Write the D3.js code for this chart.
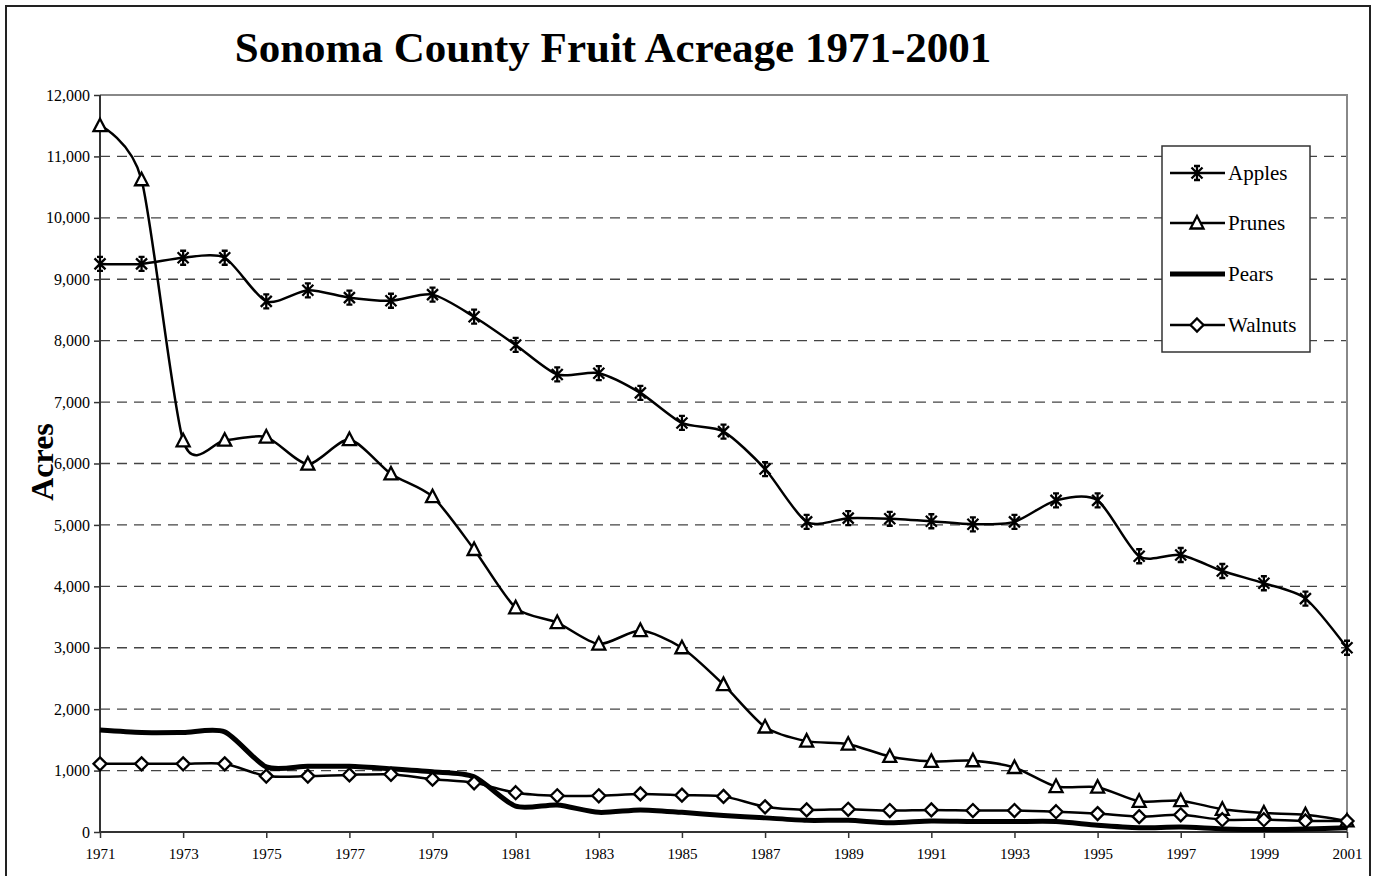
<!DOCTYPE html>
<html>
<head>
<meta charset="utf-8">
<script src="https://cdn.jsdelivr.net/npm/d3@7"></script>
<style>
    body { margin: 0; background: #fff; }
    text { font-family: "Liberation Serif", "Times New Roman", serif; fill: #000; }
</style>
</head>
<body>
<svg width="1376" height="876"></svg>
<script>
let years = d3.range(1971, 2002);
let tickYears = [1971, 1973, 1975, 1977, 1979, 1981, 1983, 1985, 1987, 1989, 1991, 1993, 1995, 1997, 1999, 2001];
let yTicks = [0, 1000, 2000, 3000, 4000, 5000, 6000, 7000, 8000, 9000, 10000, 11000, 12000];

let apples = [9250, 9250, 9350, 9350, 8640, 8820, 8700, 8650, 8750, 8390, 7930, 7450, 7470, 7150, 6660, 6520,
    5910, 5050, 5110, 5100, 5060, 5010, 5050, 5400, 5400, 4490, 4510, 4250, 4050, 3800, 3000];
let prunes = [11500, 10620, 6370, 6380, 6430, 5990, 6390, 5830, 5460, 4600, 3650, 3410, 3060, 3280, 3000, 2400,
    1710, 1480, 1430, 1230, 1150, 1160, 1050, 740, 730, 500, 510, 370, 310, 280, 180];
let pears = [1660, 1620, 1620, 1630, 1060, 1070, 1070, 1030, 980, 900, 420, 440, 320, 360, 320, 270,
    230, 190, 190, 150, 180, 170, 170, 170, 110, 70, 80, 50, 40, 50, 70];
let walnuts = [1110, 1110, 1110, 1110, 910, 910, 930, 940, 860, 800, 640, 590, 590, 620, 600, 580,
    410, 360, 370, 350, 360, 350, 350, 330, 300, 250, 280, 200, 200, 180, 180];

let seriesNames = ['Apples', 'Prunes', 'Pears', 'Walnuts'];
let seriesData = [apples, prunes, pears, walnuts];
let markerTypes = ['star', 'triangle', 'none', 'diamond'];

const margin = {left: 100, top: 95, right: 1347, bottom: 832};

let x = d3.scaleLinear().domain([1971, 2001]).range([margin.left, margin.right]);
let y = d3.scaleLinear().domain([0, 12000]).range([margin.bottom, margin.top]);

let svg = d3.select('svg');

// outer frame
svg.append('rect')
    .attr('x', 6).attr('y', 6)
    .attr('width', 1364).attr('height', 880)
    .style('fill', 'none')
    .style('stroke', '#222')
    .style('stroke-width', 2);

// title
svg.append('text')
    .attr('x', 613).attr('y', 62)
    .attr('text-anchor', 'middle')
    .style('font-size', '43px')
    .style('font-weight', 'bold')
    .text('Sonoma County Fruit Acreage 1971-2001');

// y label
svg.append('text')
    .attr('transform', 'translate(53,462) rotate(-90)')
    .attr('text-anchor', 'middle')
    .style('font-size', '32px')
    .style('font-weight', 'bold')
    .text('Acres');

// gridlines
svg.append('g')
    .selectAll('line')
    .data(yTicks.filter(function (d) { return d > 0 && d < 12000; }))
    .enter()
    .append('line')
    .attr('x1', margin.left).attr('x2', margin.right)
    .attr('y1', function (d) { return y(d); })
    .attr('y2', function (d) { return y(d); })
    .style('stroke', '#444')
    .style('stroke-width', 1.3)
    .style('stroke-dasharray', '10,7');

// top and right border of plot
svg.append('path')
    .attr('d', 'M' + margin.left + ',' + margin.top + 'H' + margin.right + 'V' + margin.bottom)
    .style('fill', 'none')
    .style('stroke', '#888')
    .style('stroke-width', 2);

// axes
let yAxis = d3.axisLeft(y)
    .tickValues(yTicks)
    .tickSize(6)
    .tickPadding(4)
    .tickFormat(d3.format(','));
let yg = svg.append('g')
    .attr('transform', 'translate(' + margin.left + ',0)')
    .call(yAxis);

let xAxis = d3.axisBottom(x)
    .tickValues(tickYears)
    .tickSize(6)
    .tickPadding(10)
    .tickFormat(d3.format('d'));
let xg = svg.append('g')
    .attr('transform', 'translate(0,' + margin.bottom + ')')
    .call(xAxis);

yg.selectAll('text').style('font-size', '16px').style('font-family', '"Liberation Serif", serif');
xg.selectAll('text').style('font-size', '15px').style('font-family', '"Liberation Serif", serif');
[yg, xg].forEach(function (g) {
    g.select('.domain').style('stroke', '#333').style('stroke-width', 2);
    g.selectAll('.tick line').style('stroke', '#333').style('stroke-width', 1.5);
});
yg.select('.domain').attr('d', 'M0,' + margin.top + 'V' + margin.bottom);
xg.select('.domain').attr('d', 'M' + margin.left + ',0H' + margin.right);

// smoothed lines, like the spreadsheet's
let lineGen = d3.line()
    .x(function (d, i) { return x(years[i]); })
    .y(function (d) { return y(d); })
    .curve(d3.curveCardinal.tension(0.25));

function markerPath(type) {
    if (type === 'star') return 'M-5.5,-5.5L5.5,5.5M-5.5,5.5L5.5,-5.5M0,-7L0,7M-3,-7H3M-3,7H3';
    if (type === 'triangle') return 'M0,-7L6.5,5.5L-6.5,5.5Z';
    if (type === 'diamond') return 'M0,-6.5L6.5,0L0,6.5L-6.5,0Z';
    return '';
}

let plot = svg.append('g');

seriesData.forEach(function (values, si) {
    plot.append('path')
        .datum(values)
        .attr('d', lineGen)
        .style('fill', 'none')
        .style('stroke', '#000')
        .style('stroke-width', markerTypes[si] === 'none' ? 5 : 2.5);
});

seriesData.forEach(function (values, si) {
    if (markerTypes[si] === 'none') return;
    plot.append('g')
        .selectAll('path')
        .data(values)
        .enter()
        .append('path')
        .attr('transform', function (d, i) {
            return 'translate(' + x(years[i]) + ',' + y(d) + ')';
        })
        .attr('d', markerPath(markerTypes[si]))
        .style('fill', markerTypes[si] === 'star' ? 'none' : '#fff')
        .style('stroke', '#000')
        .style('stroke-width', 2.3);
});

// legend
let legend = svg.append('g');
legend.append('rect')
    .attr('x', 1162).attr('y', 146)
    .attr('width', 148).attr('height', 206)
    .style('fill', '#fff')
    .style('stroke', '#333')
    .style('stroke-width', 1.5);

let legendY = [173, 223, 274, 325];
seriesNames.forEach(function (name, i) {
    let ly = legendY[i];
    legend.append('line')
        .attr('x1', 1170).attr('x2', 1225)
        .attr('y1', ly).attr('y2', ly)
        .style('stroke', '#000')
        .style('stroke-width', markerTypes[i] === 'none' ? 5 : 2.5);
    if (markerTypes[i] !== 'none') {
        legend.append('path')
            .attr('transform', 'translate(1197,' + ly + ')')
            .attr('d', markerPath(markerTypes[i]))
            .style('fill', markerTypes[i] === 'star' ? 'none' : '#fff')
            .style('stroke', '#000')
            .style('stroke-width', 2.3);
    }
    legend.append('text')
        .attr('x', 1228).attr('y', ly + 7)
        .style('font-size', '21px')
        .text(name);
});
</script>
</body>
</html>
